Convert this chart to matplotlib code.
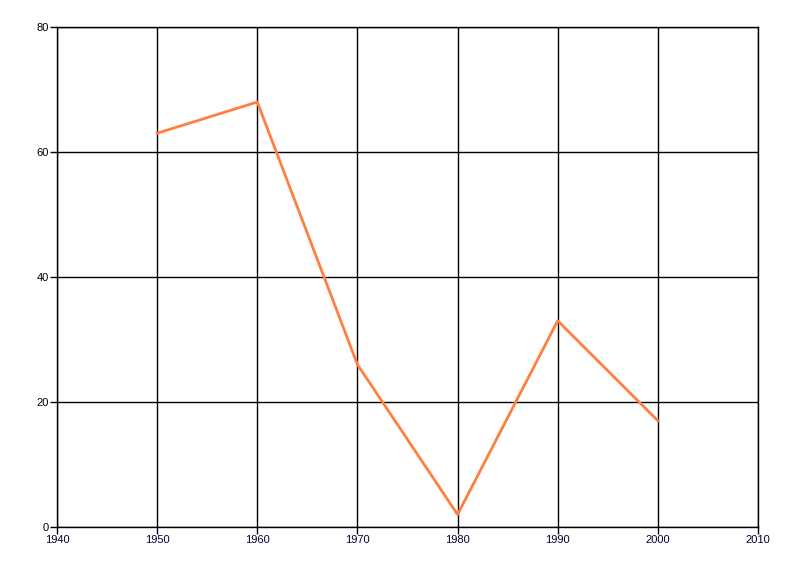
import matplotlib
matplotlib.use("Agg")
import matplotlib.pyplot as plt

years = [1950, 1960, 1970, 1980, 1990, 2000]
values = [63, 68, 26, 2, 33, 17]
x_ticks = [1940, 1950, 1960, 1970, 1980, 1990, 2000, 2010]
y_ticks = [0, 20, 40, 60, 80]

plt.rcParams['font.family'] = ['Liberation Sans', 'DejaVu Sans']
fig = plt.figure(figsize=(8, 5.76), dpi=100)
W, H = 800, 576
ax = fig.add_axes([57 / W, (H - 527) / H, (758 - 57) / W, (527 - 27) / H])

ax.plot(years, values, color='#ff7f40', linewidth=2, zorder=3)
ax.set_xlim(1940, 2010)
ax.set_ylim(0, 80)
ax.set_xticks(x_ticks)
ax.set_yticks(y_ticks)
ax.grid(True, color='black', linewidth=1)
ax.set_axisbelow(True)
for s in ax.spines.values():
    s.set_color('black')
    s.set_linewidth(1)
ax.tick_params(direction='out', length=5, width=1, labelsize=8, pad=1, colors='black')
ax.tick_params(axis='x', labelcolor='#000033')

fig.savefig('out.png', dpi=100)
